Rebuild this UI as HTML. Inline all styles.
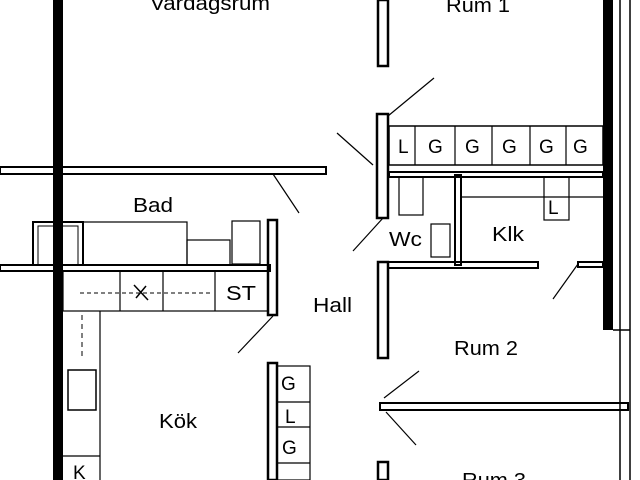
<!DOCTYPE html>
<html><head><meta charset="utf-8"><style>html,body{margin:0;padding:0;background:#fff}svg{display:block}</style></head>
<body>
<svg width="640" height="480" viewBox="0 0 640 480" xmlns="http://www.w3.org/2000/svg" font-family="Liberation Sans, sans-serif" fill="none" stroke="#000">
<rect x="53" y="0" width="10" height="480" fill="#000" stroke="none"/>
<rect x="603" y="0" width="10" height="330" fill="#000" stroke="none"/>
<line x1="620" y1="0" x2="620" y2="480" stroke-width="1.5"/>
<line x1="630" y1="0" x2="630" y2="480" stroke-width="1.5"/>
<line x1="613" y1="330" x2="630" y2="330" stroke-width="1.5"/>
<rect x="0" y="167" width="326" height="7" stroke-width="2"/>
<rect x="0" y="265" width="270" height="6" stroke-width="2"/>
<rect x="378" y="0" width="10" height="66" stroke-width="2.5"/>
<rect x="377" y="114" width="11" height="104" stroke-width="2.5"/>
<rect x="378" y="262" width="10" height="96" stroke-width="2.5"/>
<rect x="378" y="462" width="10" height="18" stroke-width="2.5"/>
<rect x="389" y="126" width="214" height="39" stroke-width="1.5"/>
<g stroke-width="1.2"><line x1="415" y1="126" x2="415" y2="165"/><line x1="455" y1="126" x2="455" y2="165"/><line x1="492" y1="126" x2="492" y2="165"/><line x1="530" y1="126" x2="530" y2="165"/><line x1="566" y1="126" x2="566" y2="165"/></g>
<rect x="389" y="172" width="214" height="5" stroke-width="2"/>
<rect x="455" y="175" width="6" height="90" stroke-width="2"/>
<rect x="388" y="262" width="150" height="6" stroke-width="2"/>
<rect x="578" y="262" width="25" height="5" stroke-width="2"/>
<line x1="461" y1="197" x2="603" y2="197" stroke-width="1.2"/>
<rect x="544" y="177" width="25" height="43" stroke-width="1.2"/>
<rect x="399" y="177" width="24" height="38" stroke-width="1.2"/>
<rect x="431" y="224" width="19" height="33" stroke-width="1.2"/>
<rect x="380" y="403" width="248" height="7" stroke-width="2"/>
<rect x="33" y="222" width="50" height="43" stroke-width="2"/>
<rect x="38" y="226" width="40" height="39" stroke-width="1"/>
<rect x="83" y="222" width="104" height="43" stroke-width="1.2"/>
<rect x="187" y="240" width="43" height="25" stroke-width="1.2"/>
<rect x="232" y="221" width="28" height="43" stroke-width="1.2"/>
<rect x="268" y="220" width="9" height="95" stroke-width="2.5"/>
<rect x="63" y="271" width="205" height="40" stroke-width="1.2"/>
<g stroke-width="1.2"><line x1="120" y1="271" x2="120" y2="311"/><line x1="163" y1="271" x2="163" y2="311"/><line x1="215" y1="271" x2="215" y2="311"/></g>
<line x1="80" y1="293" x2="210" y2="293" stroke-width="1" stroke-dasharray="4 3"/>
<path d="M134 285 L148 300 M136 298 L146 286" stroke-width="1.5"/>
<line x1="100" y1="311" x2="100" y2="480" stroke-width="1.2"/>
<rect x="68" y="370" width="28" height="40" stroke-width="1.5"/>
<line x1="63" y1="456" x2="100" y2="456" stroke-width="1.2"/>
<line x1="82" y1="315" x2="82" y2="360" stroke-width="1" stroke-dasharray="5 4"/>
<rect x="268" y="363" width="9" height="117" stroke-width="2.5"/>
<rect x="277" y="366" width="33" height="114" stroke-width="1.2"/>
<g stroke-width="1.2"><line x1="277" y1="402" x2="310" y2="402"/><line x1="277" y1="427" x2="310" y2="427"/><line x1="277" y1="463" x2="310" y2="463"/></g>
<g stroke-width="1.2">
<line x1="273" y1="174" x2="299" y2="213"/>
<line x1="273" y1="316" x2="238" y2="353"/>
<line x1="388" y1="116" x2="434" y2="78"/>
<line x1="337" y1="133" x2="373" y2="165"/>
<line x1="383" y1="218" x2="353" y2="251"/>
<line x1="578" y1="264" x2="553" y2="299"/>
<line x1="384" y1="398" x2="419" y2="371"/>
<line x1="386" y1="412" x2="416" y2="445"/>
</g>
<g fill="#000" stroke="none" font-size="20">
<text x="150" y="10" textLength="120" lengthAdjust="spacingAndGlyphs">Vardagsrum</text>
<text x="446" y="12" textLength="64" lengthAdjust="spacingAndGlyphs">Rum 1</text>
<text x="133" y="212" textLength="40" lengthAdjust="spacingAndGlyphs">Bad</text>
<text x="226" y="300" textLength="30" lengthAdjust="spacingAndGlyphs">ST</text>
<text x="313" y="312" textLength="39" lengthAdjust="spacingAndGlyphs">Hall</text>
<text x="159" y="428" textLength="38" lengthAdjust="spacingAndGlyphs">Kök</text>
<text x="389" y="246" textLength="33" lengthAdjust="spacingAndGlyphs">Wc</text>
<text x="492" y="241" textLength="32" lengthAdjust="spacingAndGlyphs">Klk</text>
<text x="454" y="355" textLength="64" lengthAdjust="spacingAndGlyphs">Rum 2</text>
<text x="462" y="487" textLength="64" lengthAdjust="spacingAndGlyphs">Rum 3</text>
</g>
<g fill="#000" stroke="none" font-size="19">
<text x="398" y="153">L</text><text x="428" y="153">G</text><text x="465" y="153">G</text><text x="502" y="153">G</text><text x="539" y="153">G</text><text x="573" y="153">G</text>
<text x="548" y="214">L</text>
<text x="281" y="390">G</text><text x="285" y="423">L</text><text x="282" y="454">G</text>
<text x="73" y="479">K</text>
</g>
</svg>
</body></html>
